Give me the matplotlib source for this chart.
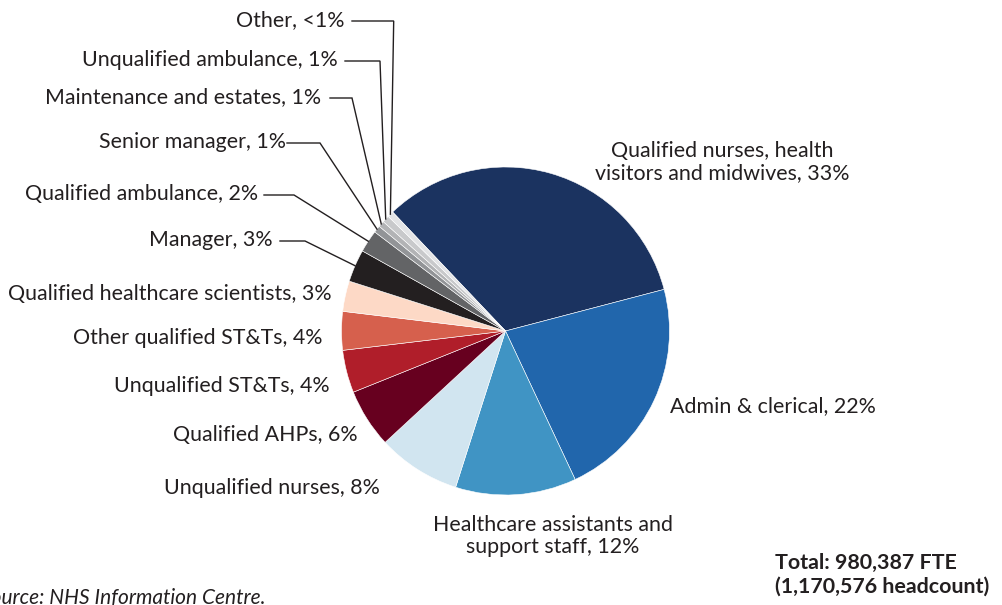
import numpy as np
import matplotlib.pyplot as plt

plt.rcParams['font.family'] = ['Lato', 'DejaVu Sans']

# Staff groups, in the order the wedges run (clockwise from upper left)
categories = ["Qualified nurses, health\nvisitors and midwives",
              "Admin & clerical",
              "Healthcare assistants and\nsupport staff",
              "Unqualified nurses",
              "Qualified AHPs",
              "Unqualified ST&Ts",
              "Other qualified ST&Ts",
              "Qualified healthcare scientists",
              "Manager",
              "Qualified ambulance",
              "Senior manager",
              "Maintenance and estates",
              "Unqualified ambulance",
              "Other"]
pct_labels = ["33%", "22%", "12%", "8%", "6%", "4%", "4%", "3%", "3%",
              "2%", "1%", "1%", "1%", "<1%"]
shares = [33.0, 22.1, 11.9, 8.2, 5.8, 4.2, 3.8, 3.0, 3.2, 2.2, 0.7, 0.6, 0.7, 0.6]

colors = ['#1b3360', '#2166ac', '#4094c4', '#d1e5f0', '#67001f', '#b01e2a',
          '#d6604d', '#fdd9c6', '#231f20', '#636466', '#929497', '#b2b3b5',
          '#c8c9cb', '#e3e4e6']

total_text = "Total: 980,387 FTE\n(1,170,576 headcount)"
source_text = "Source: NHS Information Centre."

# layout in output pixels (origin top left)
W, H = 1003, 605
CX, CY, R = 505.5, 331.0, 164.0
# x, y, ha, elbow (start x, end x) for leader lines
label_pos = [
    (722, 162, 'center', None),
    (670, 406, 'left', None),
    (553, 536, 'center', None),
    (380, 488, 'right', None),
    (358, 435, 'right', None),
    (330, 386, 'right', None),
    (323, 338, 'right', None),
    (332, 294, 'right', None),
    (273, 240, 'right', (280, 305)),
    (258, 194, 'right', (264, 294)),
    (286, 142, 'right', (287, 320)),
    (321, 97, 'right', (330, 352)),
    (338, 60, 'right', (345, 380)),
    (345, 20, 'right', (352, 393.7)),
]
TXT = '#231f20'
FS = 15.4


def to_data(x, y):
    return (x - CX) / R, (CY - y) / R


fig = plt.figure(figsize=(W / 100, H / 100), dpi=100)
ax = fig.add_axes([0, 0, 1, 1])
wedges, _ = ax.pie(shares, colors=colors, startangle=133.5, counterclock=False,
                   radius=1, center=(0, 0),
                   wedgeprops=dict(linewidth=0.4, edgecolor='white'))
ax.set_xlim(to_data(0, 0)[0], to_data(W, 0)[0])
ax.set_ylim(to_data(0, H)[1], to_data(0, 0)[1])
ax.set_aspect('auto')
ax.axis('off')

for i, w in enumerate(wedges):
    x, y, ha, elbow = label_pos[i]
    tx, ty = to_data(x, y)
    ax.text(tx, ty, f"{categories[i]}, {pct_labels[i]}", ha=ha, va='center',
            multialignment='center', fontsize=FS, color=TXT, linespacing=1.15)
    if elbow is not None:
        mid = np.deg2rad((w.theta1 + w.theta2) / 2)
        ax_, ay_ = np.cos(mid), np.sin(mid)
        x0, y0 = to_data(elbow[0], y + 1)
        x1, _ = to_data(elbow[1], y + 1)
        ax.plot([x0, x1, ax_], [y0, y0, ay_], color=TXT, lw=1.0,
                clip_on=False, solid_joinstyle='miter')

tx, ty = to_data(775, 575)
ax.text(tx, ty, total_text, ha='left', va='center', fontsize=FS,
        fontweight='bold', color=TXT, linespacing=1.25)
tx, ty = to_data(266, 598)
ax.text(tx, ty, source_text, ha='right', va='center', fontsize=15,
        style='italic', color=TXT)

fig.savefig('out.png', dpi=100)
